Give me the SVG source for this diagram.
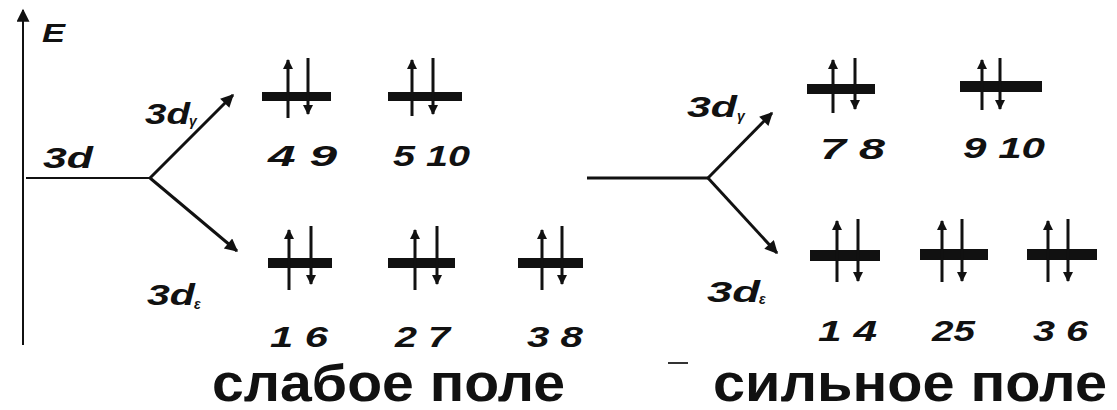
<svg xmlns="http://www.w3.org/2000/svg" width="1117" height="410" viewBox="0 0 1117 410">
<style>
.lbl{font-family:"Liberation Sans",Arial,sans-serif;font-weight:bold;font-style:italic;fill:#111}
.num{font-size:30px}
.sym{font-size:29px}
.sub{font-size:14px}
.big{font-family:"Liberation Sans",Arial,sans-serif;font-weight:bold;font-size:51px;fill:#111}
.bar{fill:#111}
.spin{stroke:#111;stroke-width:3;fill:none;marker-end:url(#sh)}
.conn{stroke:#111;stroke-width:3;fill:none}
.carr{stroke:#111;stroke-width:3;fill:none;marker-end:url(#bh)}
</style>
<defs>
<marker id="sh" viewBox="0 0 10 10" refX="9" refY="5" markerWidth="10" markerHeight="10" markerUnits="userSpaceOnUse" orient="auto"><path d="M0,0 L10,5 L0,10 z" fill="#111"/></marker>
<marker id="bh" viewBox="0 0 10 10" refX="9" refY="5" markerWidth="15" markerHeight="13" markerUnits="userSpaceOnUse" orient="auto"><path d="M0,0 L10,5 L0,10 z" fill="#111"/></marker>
</defs>
<rect width="1117" height="410" fill="#fff"/>

<g id="connectors">
<line class="carr" x1="23" y1="345" x2="23" y2="10" style="stroke-width:2"/>
<line class="conn" x1="26" y1="178" x2="150" y2="178" style="stroke-width:2"/>
<line class="carr" x1="150" y1="178" x2="233" y2="95"/>
<line class="carr" x1="150" y1="178" x2="237" y2="251"/>
<line class="conn" x1="587" y1="178" x2="708" y2="178"/>
<line class="carr" x1="708" y1="178" x2="772" y2="113"/>
<line class="carr" x1="708" y1="178" x2="777" y2="253"/>
<line x1="668" y1="363" x2="688" y2="363" stroke="#333" stroke-width="2"/>
</g>

<g id="axis-label"><text class="lbl" x="42" y="42" font-size="26" textLength="23" lengthAdjust="spacingAndGlyphs">E</text></g>
<g id="label-3d"><text class="lbl sym" x="43" y="168" textLength="50" lengthAdjust="spacingAndGlyphs">3d</text></g>
<g id="label-left-g"><text class="lbl sym" x="145" y="124" textLength="45" lengthAdjust="spacingAndGlyphs">3d</text><text class="lbl sub" x="189" y="126">γ</text></g>
<g id="label-left-e"><text class="lbl sym" x="147" y="305" textLength="48" lengthAdjust="spacingAndGlyphs">3d</text><text class="lbl sub" x="194" y="309">ε</text></g>
<g id="label-right-g"><text class="lbl sym" x="687" y="117" textLength="50" lengthAdjust="spacingAndGlyphs">3d</text><text class="lbl sub" x="737" y="121">γ</text></g>
<g id="label-right-e"><text class="lbl sym" x="707" y="302" textLength="53" lengthAdjust="spacingAndGlyphs">3d</text><text class="lbl sub" x="759" y="304">ε</text></g>

<g id="weak-g1"><rect class="bar" x="262" y="92" width="69" height="9"/><line class="spin" x1="288" y1="118" x2="288" y2="60"/><line class="spin" x1="308" y1="58" x2="308" y2="114"/><text class="lbl num" x="268" y="166" textLength="69" lengthAdjust="spacingAndGlyphs">4 9</text></g>
<g id="weak-g2"><rect class="bar" x="388" y="92" width="74" height="9"/><line class="spin" x1="412" y1="116" x2="412" y2="60"/><line class="spin" x1="433" y1="58" x2="433" y2="114"/><text class="lbl num" x="393" y="166" textLength="77" lengthAdjust="spacingAndGlyphs">5 10</text></g>

<g id="weak-e1"><rect class="bar" x="268" y="258" width="64" height="10"/><line class="spin" x1="289" y1="290" x2="289" y2="230"/><line class="spin" x1="311" y1="226" x2="311" y2="284"/><text class="lbl num" x="270" y="347" textLength="58" lengthAdjust="spacingAndGlyphs">1 6</text></g>
<g id="weak-e2"><rect class="bar" x="388" y="258" width="67" height="10"/><line class="spin" x1="415" y1="290" x2="415" y2="230"/><line class="spin" x1="437" y1="226" x2="437" y2="284"/><text class="lbl num" x="395" y="347" textLength="55" lengthAdjust="spacingAndGlyphs">2 7</text></g>
<g id="weak-e3"><rect class="bar" x="518" y="258" width="65" height="10"/><line class="spin" x1="542" y1="290" x2="542" y2="230"/><line class="spin" x1="562" y1="226" x2="562" y2="284"/><text class="lbl num" x="527" y="347" textLength="56" lengthAdjust="spacingAndGlyphs">3 8</text></g>

<g id="strong-g1"><rect class="bar" x="807" y="84" width="68" height="10"/><line class="spin" x1="833" y1="113" x2="833" y2="60"/><line class="spin" x1="855" y1="58" x2="855" y2="109"/><text class="lbl num" x="820" y="159" textLength="65" lengthAdjust="spacingAndGlyphs">7 8</text></g>
<g id="strong-g2"><rect class="bar" x="960" y="81" width="82" height="11"/><line class="spin" x1="982" y1="110" x2="982" y2="60"/><line class="spin" x1="1000" y1="58" x2="1000" y2="109"/><text class="lbl num" x="963" y="158" textLength="82" lengthAdjust="spacingAndGlyphs">9 10</text></g>

<g id="strong-e1"><rect class="bar" x="810" y="250" width="70" height="11"/><line class="spin" x1="837" y1="282" x2="837" y2="221"/><line class="spin" x1="858" y1="219" x2="858" y2="281"/><text class="lbl num" x="818" y="341" textLength="59" lengthAdjust="spacingAndGlyphs">1 4</text></g>
<g id="strong-e2"><rect class="bar" x="920" y="249" width="68" height="11"/><line class="spin" x1="942" y1="282" x2="942" y2="221"/><line class="spin" x1="962" y1="219" x2="962" y2="281"/><text class="lbl num" x="932" y="341" textLength="43" lengthAdjust="spacingAndGlyphs">25</text></g>
<g id="strong-e3"><rect class="bar" x="1027" y="249" width="70" height="11"/><line class="spin" x1="1048" y1="282" x2="1048" y2="221"/><line class="spin" x1="1068" y1="219" x2="1068" y2="281"/><text class="lbl num" x="1033" y="341" textLength="55" lengthAdjust="spacingAndGlyphs">3 6</text></g>

<g id="caption-weak"><text class="big" x="212" y="401" textLength="353" lengthAdjust="spacingAndGlyphs">слабое поле</text></g>
<g id="caption-strong"><text class="big" x="713" y="401" textLength="394" lengthAdjust="spacingAndGlyphs">сильное поле</text></g>
</svg>
